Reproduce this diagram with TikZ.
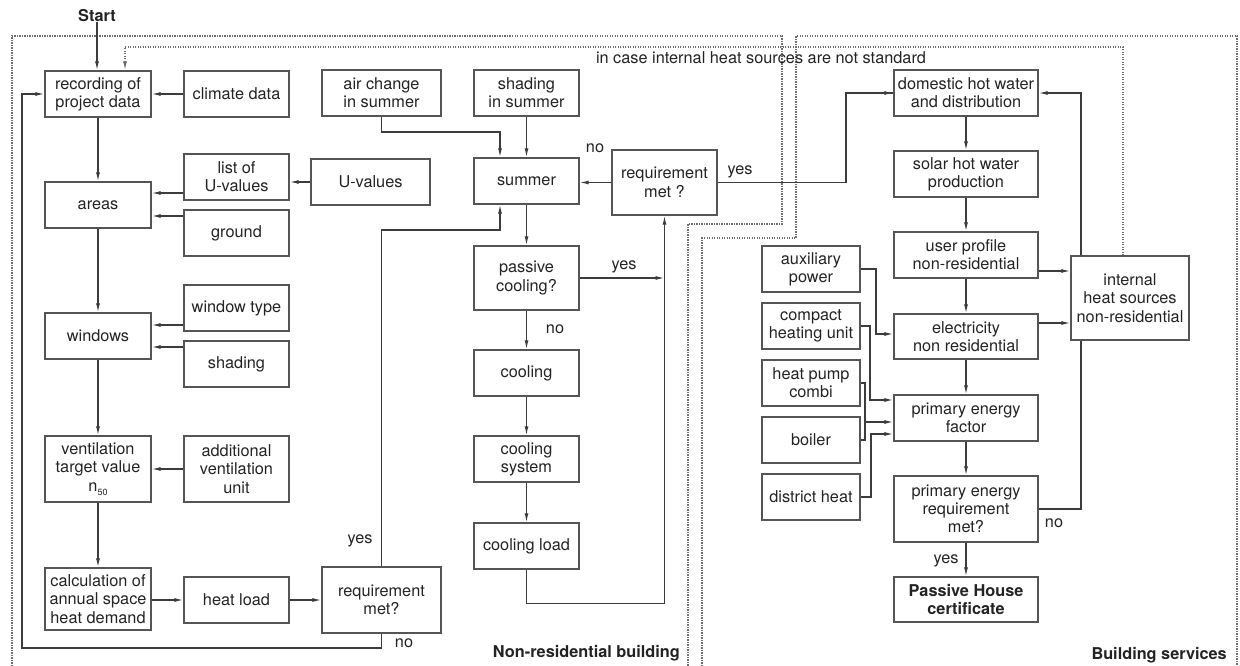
\documentclass[tikz,border=0pt]{standalone}
\usepackage{fontspec}
\setmainfont{TeX Gyre Heros}
\usetikzlibrary{arrows.meta,calc}
\definecolor{linec}{RGB}{60,60,60}
\definecolor{boxc}{RGB}{85,85,85}
\definecolor{textc}{RGB}{35,35,35}
\definecolor{dotc}{RGB}{110,110,110}
\tikzset{
  box/.style={draw=boxc, line width=1.4pt, align=center, inner sep=0pt, text=textc,
    font=\fontsize{16.3}{18.3}\selectfont},
  arr/.style={draw=linec, line width=1.2pt, -{Latex[length=9pt,width=4pt]}},
  ln/.style={draw=linec, line width=1.2pt},
  dotl/.style={draw=dotc, line width=1.2pt, dash pattern=on 1.1pt off 1.4pt},
  lbl/.style={text=textc, font=\fontsize{16.3}{18.3}\selectfont, inner sep=0pt},
  blbl/.style={text=textc, font=\fontsize{16.3}{18.3}\selectfont\bfseries, inner sep=0pt}
}
\begin{document}
\begin{tikzpicture}[x=1pt,y=-1pt]
\useasboundingbox (0,0) rectangle (1240,666);
% regions
\draw[dotl] (12,666) -- (12,36) -- (782,36) -- (782,224) -- (688,224) -- (688,666);
\draw[dotl] (702,666) -- (702,238) -- (796,238) -- (796,36) -- (1237,36) -- (1237,666);
% left column
\node[blbl] (start) at (97,16) {Start};
\node[box, minimum width=106pt, minimum height=46pt] (rec) at (98,94) {recording of\\project data};
\node[box, minimum width=105pt, minimum height=46pt] (climate) at (236.5,94) {climate data};
\node[box, minimum width=119pt, minimum height=46pt] (air) at (381.5,93) {air change\\in summer};
\node[box, minimum width=105pt, minimum height=46pt] (shadsum) at (526.5,93) {shading\\in summer};
\node[box, minimum width=105pt, minimum height=46pt] (listU) at (236.5,177) {list of\\U-values};
\node[box, minimum width=119pt, minimum height=46pt] (Uval) at (370.5,182) {U-values};
\node[box, minimum width=106pt, minimum height=46pt] (areas) at (98,205) {areas};
\node[box, minimum width=105pt, minimum height=46pt] (ground) at (236.5,233) {ground};
\node[box, minimum width=105pt, minimum height=46pt] (summer) at (526.5,181) {summer};
\node[box, minimum width=105pt, minimum height=65pt] (req1) at (664.5,182.5) {requirement\\met ?};
\node[box, minimum width=105pt, minimum height=64pt] (passive) at (526.5,278) {passive\\cooling?};
\node[box, minimum width=105pt, minimum height=46pt] (cooling) at (526.5,373) {cooling};
\node[box, minimum width=105pt, minimum height=46pt] (coolsys) at (526.5,459) {cooling\\system};
\node[box, minimum width=105pt, minimum height=46pt] (coolload) at (526.5,546) {cooling load};
\node[box, minimum width=106pt, minimum height=46pt] (windows) at (98,336) {windows};
\node[box, minimum width=105pt, minimum height=46pt] (wtype) at (236.5,308) {window type};
\node[box, minimum width=105pt, minimum height=46pt] (shading) at (236.5,364) {shading};
\node[box, minimum width=106pt, minimum height=66pt] (vent) at (98,469) {ventilation\\target value\\n\raisebox{-0.45ex}{\fontsize{9}{9}\selectfont 50}};
\node[box, minimum width=105pt, minimum height=66pt] (addvent) at (236.5,469) {additional\\ventilation\\unit};
\node[box, minimum width=106pt, minimum height=62pt] (calc) at (98,599) {calculation of\\annual space\\heat demand};
\node[box, minimum width=105pt, minimum height=46pt] (heatload) at (236.5,600) {heat load};
\node[box, minimum width=119pt, minimum height=66pt] (req2) at (381.5,600) {requirement\\met?};
% right column
\node[box, minimum width=144pt, minimum height=46pt] (dhw) at (966,93) {domestic hot water\\and distribution};
\node[box, minimum width=144pt, minimum height=46pt] (solar) at (966,174) {solar hot water\\production};
\node[box, minimum width=144pt, minimum height=46pt] (user) at (966,255) {user profile\\non-residential};
\node[box, minimum width=144pt, minimum height=45pt] (elec) at (966,336.5) {electricity\\non residential};
\node[box, minimum width=144pt, minimum height=46pt] (pef) at (966,418) {primary energy\\factor};
\node[box, minimum width=144pt, minimum height=66pt] (per) at (966,509) {primary energy\\requirement\\met?};
\node[box, minimum width=144pt, minimum height=45pt, font=\fontsize{16.3}{18.3}\selectfont\bfseries] (phc) at (966,599.5) {Passive House\\certificate};
\node[box, minimum width=118pt, minimum height=84pt] (ihs) at (1130,298) {internal\\heat sources\\non-residential};
\node[box, minimum width=98pt, minimum height=46pt] (aux) at (811,269) {auxiliary\\power};
\node[box, minimum width=98pt, minimum height=46pt] (compact) at (811,326) {compact\\heating unit};
\node[box, minimum width=98pt, minimum height=46pt] (hp) at (811,383) {heat pump\\combi};
\node[box, minimum width=98pt, minimum height=46pt] (boiler) at (811,440) {boiler};
\node[box, minimum width=98pt, minimum height=46pt] (district) at (811,497) {district heat};
% connectors left
\draw[arr] (start.south) -- (start.south |- rec.north);
\draw[dotl, -{Latex[length=9pt,width=4pt]}] (ihs.north -| 1123,0) |- (125,47) -- (rec.north -| 125,0);
\draw[arr] (climate.west) -- (rec.east);
\draw[arr] (rec.south) -- (areas.north);
\draw[arr] (Uval.west |- 0,182) -- (listU.east |- 0,182);
\draw[arr] (listU.west |- 0,193) -- (areas.east |- 0,193);
\draw[arr] (ground.west |- 0,216) -- (areas.east |- 0,216);
\draw[arr] (areas.south) -- (windows.north);
\draw[arr] (wtype.west |- 0,325) -- (windows.east |- 0,325);
\draw[arr] (shading.west |- 0,347) -- (windows.east |- 0,347);
\draw[arr] (windows.south) -- (vent.north);
\draw[arr] (addvent.west) -- (vent.east);
\draw[arr] (vent.south) -- (calc.north);
\draw[arr] (calc.east |- heatload.west) -- (heatload.west);
\draw[arr] (heatload.east) -- (req2.west);
\draw[arr] (req2.south) |- (22,648) |- (rec.west);
\draw[arr] (req2.north) |- (500,230) -- (summer.south -| 500,0);
\draw[arr] (air.south) |- (500,132) -- (summer.north -| 500,0);
\draw[arr] (shadsum.south) -- (summer.north);
\draw[arr] (req1.west) -- (summer.east |- req1.west);
\draw[ln] (req1.east) -- (846,182.5) |- (dhw.west);
\draw[-{Latex[length=9pt,width=4pt]}, draw=linec, line width=1.2pt] (846,93) -- (dhw.west);
\draw[arr] (summer.south) -- (passive.north);
\draw[arr] (passive.south) -- (cooling.north);
\draw[arr] (cooling.south) -- (coolsys.north);
\draw[arr] (coolsys.south) -- (coolload.north);
\draw[arr] (passive.east) -- (passive.east -| req1.south);
\draw[arr] (coolload.south) -- ++(0,34) -| (req1.south);
% connectors right
\draw[arr] (dhw.south) -- (solar.north);
\draw[arr] (solar.south) -- (user.north);
\draw[arr] (user.south) -- (elec.north);
\draw[arr] (elec.south) -- (pef.north);
\draw[arr] (pef.south) -- (per.north);
\draw[arr] (per.south) -- (phc.north);
\draw[arr] (user.east |- 0,271) -- (ihs.west |- 0,271);
\draw[arr] (elec.east |- 0,323) -- (ihs.west |- 0,323);
\draw[arr] (ihs.north -| 1081,0) |- (dhw.east);
\draw[ln] (per.east) -| (ihs.south -| 1081,0);
\draw[arr] (aux.east) -| (876,334) -- (elec.west |- 0,334);
\draw[arr] (compact.east) -| (870,400) -- (pef.west |- 0,400);
\draw[ln] (hp.east) -- (865,383) -- (865,440) -- (boiler.east);
\draw[arr] (865,422) -- (pef.west |- 0,422);
\draw[arr] (district.east) -| (871,434) -- (pef.west |- 0,434);
% labels
\node[lbl] (l1) at (595,148) {no};
\node[lbl] (l2) at (740,172) {yes};
\node[lbl] (l3) at (624,267) {yes};
\node[lbl] (l4) at (555,329) {no};
\node[lbl] (l5) at (360,541) {yes};
\node[lbl] (l6) at (404,643) {no};
\node[lbl] (l7) at (1054,523) {no};
\node[lbl] (l8) at (946,561) {yes};
\node[lbl] (l9) at (761,58) {in case internal heat sources are not standard};
\node[blbl, anchor=east] (l10) at (680,653) {Non-residential building};
\node[blbl, anchor=east] (l11) at (1227,655) {Building services};
\end{tikzpicture}
\end{document}
